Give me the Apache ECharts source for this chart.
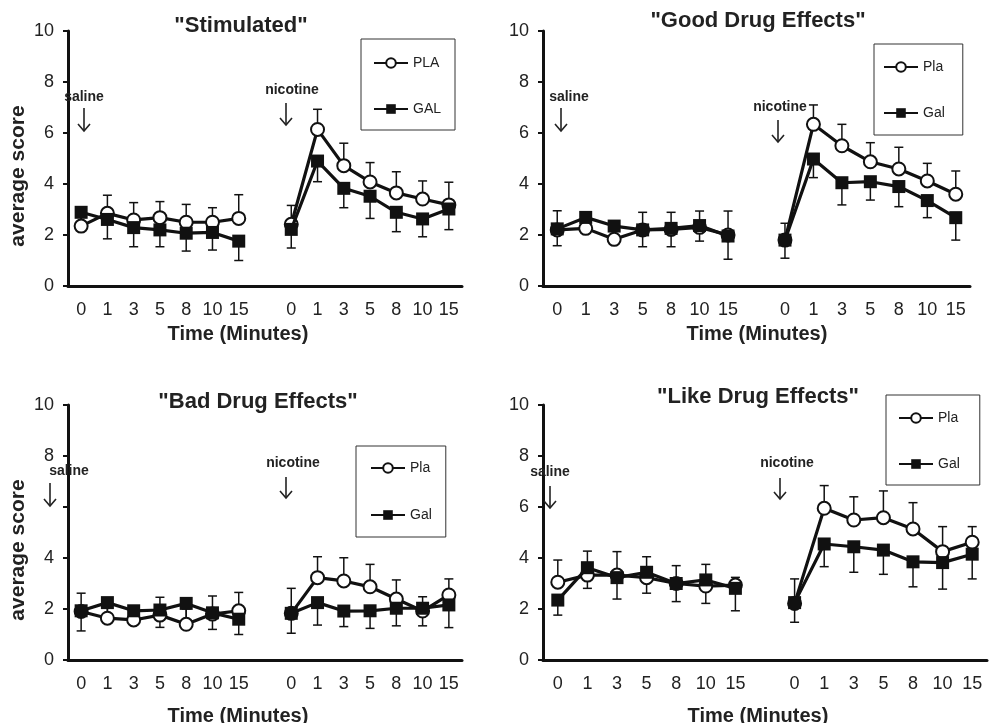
<!DOCTYPE html>
<html>
<head>
<meta charset="utf-8">
<script src="https://cdn.jsdelivr.net/npm/echarts@6/dist/echarts.min.js"></script>
<style>
html,body{margin:0;padding:0;background:#fff;}
#chart{width:991px;height:723px;}
</style>
</head>
<body>
<div id="chart"></div>
<script>
// ---- data ----
const timeLabels = ['0', '1', '3', '5', '8', '10', '15'];
const yTicks = [0, 2, 4, 6, 8, 10];
const panelTitles = ['"Stimulated"', '"Good Drug Effects"', '"Bad Drug Effects"', '"Like Drug Effects"'];
const legendNames = [['PLA', 'GAL'], ['Pla', 'Gal'], ['Pla', 'Gal'], ['Pla', 'Gal']];

// Stimulated
const stimPlaSaline = [2.35, 2.85, 2.59, 2.68, 2.50, 2.50, 2.65];
const stimPlaSalineErr = [0.50, 0.71, 0.68, 0.63, 0.70, 0.57, 0.93];
const stimGalSaline = [2.89, 2.61, 2.29, 2.20, 2.07, 2.10, 1.76];
const stimGalSalineErr = [0.50, 0.76, 0.75, 0.66, 0.70, 0.69, 0.76];
const stimPlaNicotine = [2.42, 6.14, 4.72, 4.08, 3.65, 3.41, 3.18];
const stimPlaNicotineErr = [0.74, 0.79, 0.88, 0.76, 0.83, 0.71, 0.89];
const stimGalNicotine = [2.22, 4.90, 3.83, 3.52, 2.89, 2.63, 3.02];
const stimGalNicotineErr = [0.73, 0.81, 0.76, 0.87, 0.76, 0.70, 0.81];

// Good Drug Effects
const goodPlaSaline = [2.20, 2.26, 1.83, 2.20, 2.22, 2.30, 2.00];
const goodPlaSalineErr = [0.75, 0.40, 0.50, 0.69, 0.67, 0.64, 0.94];
const goodGalSaline = [2.24, 2.69, 2.35, 2.20, 2.26, 2.37, 1.96];
const goodGalSalineErr = [0.66, 0.40, 0.40, 0.66, 0.72, 0.61, 0.91];
const goodPlaNicotine = [1.80, 6.34, 5.50, 4.87, 4.59, 4.12, 3.60];
const goodPlaNicotineErr = [0.66, 0.76, 0.84, 0.75, 0.85, 0.69, 0.91];
const goodGalNicotine = [1.80, 4.98, 4.05, 4.09, 3.90, 3.35, 2.68];
const goodGalNicotineErr = [0.71, 0.73, 0.87, 0.72, 0.79, 0.67, 0.88];

// Bad Drug Effects
const badPlaSaline = [1.90, 1.64, 1.57, 1.76, 1.40, 1.80, 1.93];
const badPlaSalineErr = [0.72, 0.45, 0.40, 0.70, 0.60, 0.71, 0.72];
const badGalSaline = [1.93, 2.25, 1.93, 1.96, 2.22, 1.85, 1.60];
const badGalSalineErr = [0.79, 0.60, 0.40, 0.68, 0.80, 0.65, 0.60];
const badPlaNicotine = [1.83, 3.23, 3.10, 2.87, 2.39, 1.92, 2.55];
const badPlaNicotineErr = [0.98, 0.82, 0.91, 0.88, 0.75, 0.56, 0.63];
const badGalNicotine = [1.83, 2.25, 1.92, 1.93, 2.03, 2.03, 2.16];
const badGalNicotineErr = [0.78, 0.88, 0.61, 0.69, 0.69, 0.69, 0.89];

// Like Drug Effects
const likePlaSaline = [3.05, 3.33, 3.33, 3.23, 3.00, 2.90, 2.94];
const likePlaSalineErr = [0.87, 0.94, 0.92, 0.82, 0.70, 0.85, 0.30];
const likeGalSaline = [2.35, 3.62, 3.23, 3.44, 3.00, 3.14, 2.81];
const likeGalSalineErr = [0.59, 0.81, 0.84, 0.82, 0.71, 0.92, 0.88];
const likePlaNicotine = [2.22, 5.95, 5.49, 5.58, 5.14, 4.25, 4.62];
const likePlaNicotineErr = [0.96, 0.89, 0.91, 1.05, 1.03, 0.98, 0.61];
const likeGalNicotine = [2.25, 4.55, 4.44, 4.31, 3.85, 3.82, 4.15];
const likeGalNicotineErr = [0.77, 0.89, 1.00, 0.95, 0.98, 1.04, 0.97];

// ---- build ----
const FONT = '"Liberation Sans", Arial, sans-serif';
const INK = '#111';
const categories = [...timeLabels, '', ...timeLabels];

const panels = [
  {pla: [stimPlaSaline, stimPlaNicotine], plaE: [stimPlaSalineErr, stimPlaNicotineErr],
   gal: [stimGalSaline, stimGalNicotine], galE: [stimGalSalineErr, stimGalNicotineErr]},
  {pla: [goodPlaSaline, goodPlaNicotine], plaE: [goodPlaSalineErr, goodPlaNicotineErr],
   gal: [goodGalSaline, goodGalNicotine], galE: [goodGalSalineErr, goodGalNicotineErr]},
  {pla: [badPlaSaline, badPlaNicotine], plaE: [badPlaSalineErr, badPlaNicotineErr],
   gal: [badGalSaline, badGalNicotine], galE: [badGalSalineErr, badGalNicotineErr]},
  {pla: [likePlaSaline, likePlaNicotine], plaE: [likePlaSalineErr, likePlaNicotineErr],
   gal: [likeGalSaline, likeGalNicotine], galE: [likeGalSalineErr, likeGalNicotineErr]}
];

const grids = [
  {left: 68, top: 31, width: 394, height: 255},
  {left: 543, top: 31, width: 427, height: 255},
  {left: 68, top: 405, width: 394, height: 255},
  {left: 543, top: 405, width: 444, height: 255}
];

function lineData(pair) { return [...pair[0], null, ...pair[1]]; }
function errData(pair, errPair) {
  const out = [];
  pair[0].forEach((v, i) => out.push([i, v, errPair[0][i]]));
  pair[1].forEach((v, i) => out.push([i + timeLabels.length + 1, v, errPair[1][i]]));
  return out;
}
function errRender(dir) {
  return function (params, api) {
    const i = api.value(0), v = api.value(1), e = api.value(2);
    const p0 = api.coord([i, v]);
    const p1 = api.coord([i, v + dir * e]);
    const hw = 4.5;
    return {
      type: 'group',
      children: [
        {type: 'line', shape: {x1: p0[0], y1: p0[1], x2: p1[0], y2: p1[1]}, style: {stroke: INK, lineWidth: 1.5}},
        {type: 'line', shape: {x1: p1[0] - hw, y1: p1[1], x2: p1[0] + hw, y2: p1[1]}, style: {stroke: INK, lineWidth: 1.5}}
      ]
    };
  };
}

const xAxes = [], yAxes = [], series = [];
panels.forEach((p, k) => {
  xAxes.push({
    type: 'category', gridIndex: k, data: categories, boundaryGap: true,
    axisLine: {lineStyle: {color: INK, width: 3}},
    axisTick: {alignWithLabel: true, length: 5, lineStyle: {color: INK, width: 2}},
    axisLabel: {interval: 0, fontSize: 18, color: '#222', fontFamily: FONT, margin: 15},
    splitLine: {show: false}
  });
  yAxes.push({
    type: 'value', gridIndex: k, min: yTicks[0], max: yTicks[yTicks.length - 1], interval: yTicks[1] - yTicks[0],
    axisLine: {show: true, lineStyle: {color: INK, width: 3}},
    axisTick: {show: true, length: 5, lineStyle: {color: INK, width: 2}},
    axisLabel: {fontSize: 18, color: '#222', fontFamily: FONT, margin: 14},
    splitLine: {show: false}
  });
  const [plaName, galName] = legendNames[k];
  series.push({
    type: 'custom', name: 'plaErr' + k, xAxisIndex: k, yAxisIndex: k, z: 1,
    renderItem: errRender(1), data: errData(p.pla, p.plaE), encode: {x: 0, y: 1}, silent: true
  });
  series.push({
    type: 'custom', name: 'galErr' + k, xAxisIndex: k, yAxisIndex: k, z: 1,
    renderItem: errRender(-1), data: errData(p.gal, p.galE), encode: {x: 0, y: 1}, silent: true
  });
  series.push({
    type: 'line', name: plaName, xAxisIndex: k, yAxisIndex: k, z: 3,
    data: lineData(p.pla), connectNulls: false,
    symbol: 'circle', symbolSize: 13, showAllSymbol: true,
    lineStyle: {color: INK, width: 3.2},
    itemStyle: {color: '#fff', borderColor: INK, borderWidth: 2}
  });
  series.push({
    type: 'line', name: galName, xAxisIndex: k, yAxisIndex: k, z: 4,
    data: lineData(p.gal), connectNulls: false,
    symbol: 'rect', symbolSize: 13, showAllSymbol: true,
    lineStyle: {color: INK, width: 3.2},
    itemStyle: {color: INK, borderColor: INK, borderWidth: 0}
  });
});

const legendPos = [
  {left: 361, top: 39, padding: [17, 14, 14, 12], itemGap: 32},
  {left: 874, top: 44, padding: [16, 18, 15, 9], itemGap: 32},
  {left: 356, top: 446, padding: [15, 14, 15, 14], itemGap: 33},
  {left: 886, top: 395, padding: [16, 20, 14, 12], itemGap: 32}
];
const legends = legendPos.map((lp, k) => Object.assign({
  data: legendNames[k], orient: 'vertical', itemWidth: 34, itemHeight: 12,
  borderColor: '#333', borderWidth: 1, backgroundColor: '#fff',
  selectedMode: false,
  textStyle: {fontSize: 14, color: '#222', fontFamily: FONT}
}, lp));

// annotation helpers
function txt(x, y, s, size, bold, extra) {
  return Object.assign({
    type: 'text', x: x, y: y, z: 100,
    style: {text: s, fontSize: size, fontWeight: bold ? 'bold' : 'normal', fontFamily: FONT,
      fill: '#222', align: 'center', verticalAlign: 'middle'}
  }, extra || {});
}
function arrow(x, y1, y2, cover) {
  const els = [];
  if (cover) els.push({type: 'rect', z: 99, shape: {x: x - 13, y: y1 - 1, width: 23, height: 36}, style: {fill: '#fff'}});
  els.push({type: 'line', z: 100, shape: {x1: x, y1: y1, x2: x, y2: y2}, style: {stroke: '#222', lineWidth: 1.6}});
  els.push({type: 'polyline', z: 100, shape: {points: [[x - 6, y2 - 7], [x, y2], [x + 6, y2 - 7]]}, style: {stroke: '#222', lineWidth: 1.6, fill: null}});
  return els;
}

const graphics = [
  txt(241, 26, panelTitles[0], 22, true),
  txt(758, 21, panelTitles[1], 22, true),
  txt(258, 402, panelTitles[2], 22, true),
  txt(758, 397, panelTitles[3], 22, true),
  txt(18, 176, 'average score', 21, true, {rotation: Math.PI / 2}),
  txt(18, 550, 'average score', 21, true, {rotation: Math.PI / 2}),
  txt(238, 334, 'Time (Minutes)', 20, true),
  txt(757, 334, 'Time (Minutes)', 20, true),
  txt(238, 716, 'Time (Minutes)', 20, true),
  txt(758, 716, 'Time (Minutes)', 20, true),
  // saline / nicotine markers
  txt(84, 97, 'saline', 14, true), ...arrow(84, 108, 131),
  txt(292, 90, 'nicotine', 14, true), ...arrow(286, 103, 125),
  txt(569, 97, 'saline', 14, true), ...arrow(561, 108, 131),
  txt(780, 107, 'nicotine', 14, true), ...arrow(778, 120, 142),
  txt(69, 471, 'saline', 14, true), ...arrow(50, 483, 506, true),
  txt(293, 463, 'nicotine', 14, true), ...arrow(286, 477, 498),
  txt(550, 472, 'saline', 14, true), ...arrow(550, 486, 508),
  txt(787, 463, 'nicotine', 14, true), ...arrow(780, 478, 499)
];

const chart = echarts.init(document.getElementById('chart'), null, {renderer: 'canvas'});
chart.setOption({
  animation: false,
  backgroundColor: '#fff',
  grid: grids,
  xAxis: xAxes,
  yAxis: yAxes,
  legend: legends,
  series: series,
  graphic: graphics
});
</script>
</body>
</html>
